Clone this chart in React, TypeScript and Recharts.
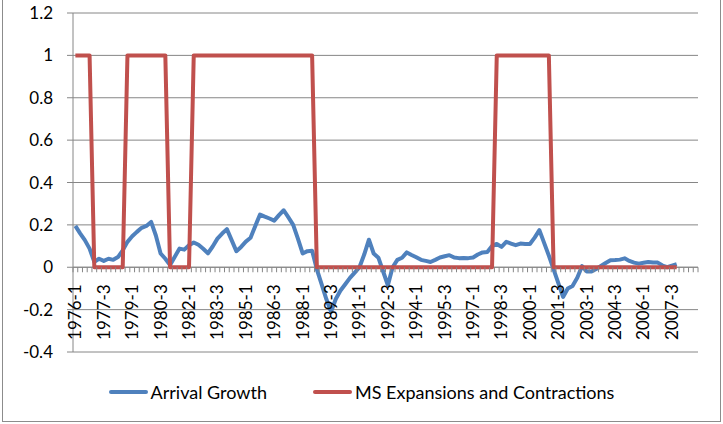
import React from "react";
import { LineChart, Line, XAxis, YAxis, CartesianGrid, ReferenceLine, Legend } from "recharts";

// quarters on the category axis (the sheet runs to 2008-4, data stops at 2007-4)
const quarters = [
  "1976-1", "1976-2", "1976-3", "1976-4",
  "1977-1", "1977-2", "1977-3", "1977-4",
  "1978-1", "1978-2", "1978-3", "1978-4",
  "1979-1", "1979-2", "1979-3", "1979-4",
  "1980-1", "1980-2", "1980-3", "1980-4",
  "1981-1", "1981-2", "1981-3", "1981-4",
  "1982-1", "1982-2", "1982-3", "1982-4",
  "1983-1", "1983-2", "1983-3", "1983-4",
  "1984-1", "1984-2", "1984-3", "1984-4",
  "1985-1", "1985-2", "1985-3", "1985-4",
  "1986-1", "1986-2", "1986-3", "1986-4",
  "1987-1", "1987-2", "1987-3", "1987-4",
  "1988-1", "1988-2", "1988-3", "1988-4",
  "1989-1", "1989-2", "1989-3", "1989-4",
  "1990-1", "1990-2", "1990-3", "1990-4",
  "1991-1", "1991-2", "1991-3", "1991-4",
  "1992-1", "1992-2", "1992-3", "1992-4",
  "1993-1", "1993-2", "1993-3", "1993-4",
  "1994-1", "1994-2", "1994-3", "1994-4",
  "1995-1", "1995-2", "1995-3", "1995-4",
  "1996-1", "1996-2", "1996-3", "1996-4",
  "1997-1", "1997-2", "1997-3", "1997-4",
  "1998-1", "1998-2", "1998-3", "1998-4",
  "1999-1", "1999-2", "1999-3", "1999-4",
  "2000-1", "2000-2", "2000-3", "2000-4",
  "2001-1", "2001-2", "2001-3", "2001-4",
  "2002-1", "2002-2", "2002-3", "2002-4",
  "2003-1", "2003-2", "2003-3", "2003-4",
  "2004-1", "2004-2", "2004-3", "2004-4",
  "2005-1", "2005-2", "2005-3", "2005-4",
  "2006-1", "2006-2", "2006-3", "2006-4",
  "2007-1", "2007-2", "2007-3", "2007-4",
  "2008-1", "2008-2", "2008-3", "2008-4",
];

const arrivalGrowth = [
  0.195, 0.16, 0.128, 0.088, 0.025, 0.04, 0.03, 0.04,
  0.035, 0.048, 0.08, 0.12, 0.146, 0.167, 0.186, 0.195,
  0.214, 0.15, 0.065, 0.04, 0.01, 0.05, 0.088, 0.083,
  0.104, 0.117, 0.106, 0.087, 0.066, 0.098, 0.135, 0.159,
  0.18, 0.128, 0.076, 0.096, 0.121, 0.139, 0.195, 0.249,
  0.239, 0.23, 0.22, 0.246, 0.269, 0.235, 0.2, 0.135,
  0.065, 0.076, 0.078, -0.01, -0.08, -0.15, -0.21, -0.15,
  -0.11, -0.08, -0.05, -0.025, 0.0, 0.06, 0.13, 0.065,
  0.045, -0.02, -0.085, 0.0, 0.035, 0.045, 0.07, 0.058,
  0.047, 0.035, 0.03, 0.025, 0.035, 0.046, 0.052, 0.057,
  0.046, 0.043, 0.044, 0.043, 0.046, 0.06, 0.07, 0.072,
  0.1, 0.11, 0.096, 0.12, 0.112, 0.104, 0.112, 0.11,
  0.11, 0.14, 0.175, 0.115, 0.055, -0.01, -0.075, -0.14,
  -0.1, -0.088, -0.05, 0.005, -0.02, -0.02, -0.008, 0.006,
  0.02, 0.033, 0.034, 0.036, 0.042, 0.03, 0.022, 0.017,
  0.021, 0.025, 0.022, 0.022, 0.008, 0.0, 0.008, 0.015,
];

// Markov switching regime: 1 = expansion, 0 = contraction
const msRegime = [
  1, 1, 1, 1, 0, 0, 0, 0, 0, 0, 0, 1, 1, 1, 1, 1,
  1, 1, 1, 1, 0, 0, 0, 0, 0, 1, 1, 1, 1, 1, 1, 1,
  1, 1, 1, 1, 1, 1, 1, 1, 1, 1, 1, 1, 1, 1, 1, 1,
  1, 1, 1, 0, 0, 0, 0, 0, 0, 0, 0, 0, 0, 0, 0, 0,
  0, 0, 0, 0, 0, 0, 0, 0, 0, 0, 0, 0, 0, 0, 0, 0,
  0, 0, 0, 0, 0, 0, 0, 0, 0, 1, 1, 1, 1, 1, 1, 1,
  1, 1, 1, 1, 1, 0, 0, 0, 0, 0, 0, 0, 0, 0, 0, 0,
  0, 0, 0, 0, 0, 0, 0, 0, 0, 0, 0, 0, 0, 0, 0, 0,
];

const yTicks = [-0.4, -0.2, 0, 0.2, 0.4, 0.6, 0.8, 1, 1.2];

const W = 723;
const H = 424;
const PLOT_LEFT = 73;
const PLOT_RIGHT = 698;
const PLOT_TOP = 13;
const PLOT_BOTTOM = 352;
const Y_MIN = -0.4;
const Y_MAX = 1.2;
const BAND = (PLOT_RIGHT - PLOT_LEFT) / quarters.length;
const ZERO_Y = PLOT_TOP + ((Y_MAX - 0) / (Y_MAX - Y_MIN)) * (PLOT_BOTTOM - PLOT_TOP);

const GRID = "#868686";
const FONT = "Lato, sans-serif";

const data = quarters.map((q, i) => ({
  q,
  growth: i < arrivalGrowth.length ? arrivalGrowth[i] : null,
  regime: i < msRegime.length ? msRegime[i] : null,
}));

// excel style category axis sitting on y = 0
const QuarterTick = (props: any) => {
  const { x, index, payload } = props;
  const edge = x + BAND / 2;
  return (
    <g>
      {index === 0 && (
        <line x1={x - BAND / 2} x2={x - BAND / 2} y1={ZERO_Y} y2={ZERO_Y + 5} stroke={GRID} />
      )}
      <line x1={edge} x2={edge} y1={ZERO_Y} y2={ZERO_Y + 5} stroke={GRID} />
      {index % 6 === 0 && (
        <text
          x={x}
          y={ZERO_Y + 17}
          dy="0.35em"
          textAnchor="end"
          transform={`rotate(-90, ${x}, ${ZERO_Y + 17})`}
          fontSize={17}
          fontFamily={FONT}
          fill="#000"
        >
          {payload.value}
        </text>
      )}
    </g>
  );
};

const LegendContent = () => (
  <div style={{ display: "flex", justifyContent: "center", gap: 46, fontFamily: FONT, fontSize: 18, color: "#000" }}>
    {[
      { name: "Arrival Growth", color: "#4F81BD" },
      { name: "MS Expansions and Contractions", color: "#C0504D" },
    ].map((item) => (
      <div key={item.name} style={{ display: "flex", alignItems: "center" }}>
        <div style={{ width: 39, height: 4, borderRadius: 2, background: item.color, marginRight: 3 }} />
        <span>{item.name}</span>
      </div>
    ))}
  </div>
);

export default function App() {
  return (
    <div style={{ position: "absolute", left: 0, top: 0, width: W, height: H, background: "#fff" }}>
      <div
        style={{
          position: "absolute",
          left: 2,
          top: -1,
          width: 717,
          height: 421,
          border: "1px solid #8c8c8c",
        }}
      />
      <LineChart
        width={W}
        height={H}
        data={data}
        margin={{ top: PLOT_TOP, right: W - PLOT_RIGHT, bottom: H - PLOT_BOTTOM - 1, left: 0 }}
      >
        <CartesianGrid vertical={false} stroke={GRID} strokeWidth={1} />
        <XAxis
          dataKey="q"
          interval={0}
          height={1}
          padding={{ left: BAND / 2, right: BAND / 2 }}
          axisLine={false}
          tickLine={false}
          tick={<QuarterTick />}
        />
        <YAxis
          width={PLOT_LEFT}
          domain={[Y_MIN, Y_MAX]}
          ticks={yTicks}
          allowDataOverflow
          axisLine={{ stroke: GRID }}
          tickLine={{ stroke: GRID }}
          tickSize={6}
          tickMargin={14}
          tick={{ fontSize: 17, fontFamily: FONT, fill: "#000" }}
        />
        <ReferenceLine y={0} stroke={GRID} strokeWidth={1} />
        <Legend verticalAlign="middle" align="center" wrapperStyle={{ top: 381, left: 0, width: W }} content={<LegendContent />} />
        <Line
          dataKey="growth"
          name="Arrival Growth"
          stroke="#4F81BD"
          strokeWidth={4}
          dot={false}
          type="linear"
          strokeLinejoin="round"
          isAnimationActive={false}
        />
        <Line
          dataKey="regime"
          name="MS Expansions and Contractions"
          stroke="#C0504D"
          strokeWidth={4}
          dot={false}
          type="linear"
          strokeLinejoin="round"
          isAnimationActive={false}
        />
      </LineChart>
    </div>
  );
}
